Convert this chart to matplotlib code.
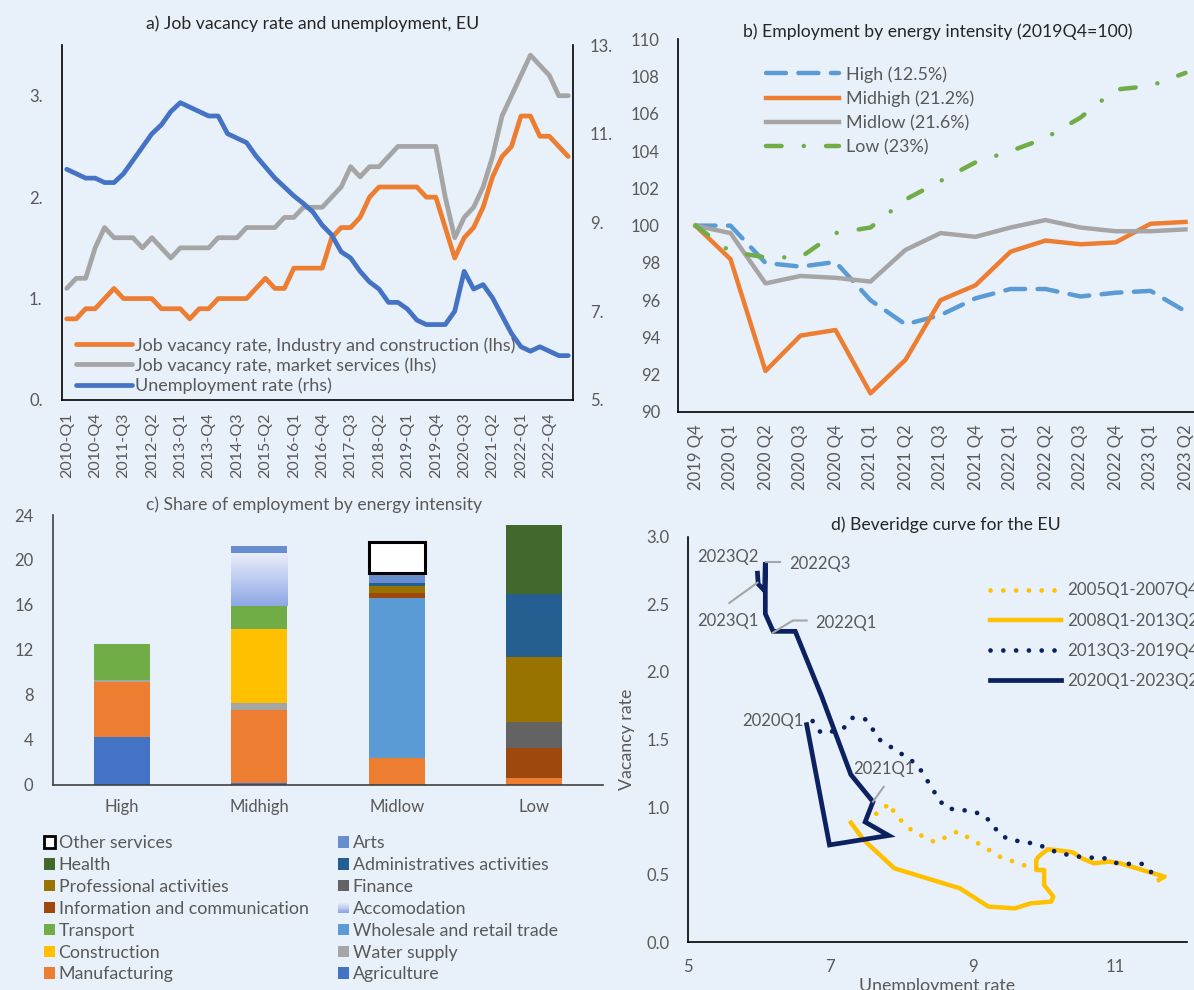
import numpy as np
import matplotlib.pyplot as plt
from matplotlib.patches import Patch, Rectangle
from matplotlib.legend_handler import HandlerBase
from matplotlib.colors import LinearSegmentedColormap
from matplotlib.ticker import FuncFormatter

plt.rcParams['font.family'] = ['Lato', 'DejaVu Sans']

W, H = 1194, 990
BG = '#E8F0F9'
GREY_TXT = '#595959'

# ---------------- data ----------------
# a) job vacancy and unemployment, 2010-Q1 .. 2023-Q2
quarters_a = [f"{y}-Q{q}" for y in range(2010, 2024) for q in range(1, 5)][:54]
vac_industry = [0.8, 0.8, 0.9, 0.9, 1.0, 1.1, 1.0, 1.0, 1.0, 1.0, 0.9, 0.9, 0.9, 0.8,
                0.9, 0.9, 1.0, 1.0, 1.0, 1.0, 1.1, 1.2, 1.1, 1.1, 1.3, 1.3, 1.3, 1.3,
                1.6, 1.7, 1.7, 1.8, 2.0, 2.1, 2.1, 2.1, 2.1, 2.1, 2.0, 2.0, 1.7, 1.4,
                1.6, 1.7, 1.9, 2.2, 2.4, 2.5, 2.8, 2.8, 2.6, 2.6, 2.5, 2.4]
vac_services = [1.1, 1.2, 1.2, 1.5, 1.7, 1.6, 1.6, 1.6, 1.5, 1.6, 1.5, 1.4, 1.5, 1.5,
                1.5, 1.5, 1.6, 1.6, 1.6, 1.7, 1.7, 1.7, 1.7, 1.8, 1.8, 1.9, 1.9, 1.9,
                2.0, 2.1, 2.3, 2.2, 2.3, 2.3, 2.4, 2.5, 2.5, 2.5, 2.5, 2.5, 2.0, 1.6,
                1.8, 1.9, 2.1, 2.4, 2.8, 3.0, 3.2, 3.4, 3.3, 3.2, 3.0, 3.0]
unemp_rate = [10.2, 10.1, 10.0, 10.0, 9.9, 9.9, 10.1, 10.4, 10.7, 11.0, 11.2, 11.5, 11.7, 11.6,
              11.5, 11.4, 11.4, 11.0, 10.9, 10.8, 10.5, 10.25, 10.0, 9.8, 9.6, 9.43, 9.24, 8.94,
              8.72, 8.34, 8.2, 7.9, 7.66, 7.5, 7.2, 7.2, 7.05, 6.8, 6.7, 6.7, 6.7, 7.0,
              7.9, 7.5, 7.6, 7.3, 6.9, 6.5, 6.2, 6.1, 6.2, 6.1, 6.0, 6.0]

# b) employment by energy intensity (2019Q4=100)
quarters_b = ['2019 Q4', '2020 Q1', '2020 Q2', '2020 Q3', '2020 Q4', '2021 Q1', '2021 Q2',
              '2021 Q3', '2021 Q4', '2022 Q1', '2022 Q2', '2022 Q3', '2022 Q4', '2023 Q1', '2023 Q2']
emp_high = [100.0, 100.0, 98.0, 97.8, 98.05, 96.0, 94.7, 95.2, 96.1, 96.6, 96.6, 96.2, 96.4, 96.5, 95.4]
emp_midhigh = [100.0, 98.2, 92.2, 94.1, 94.4, 91.0, 92.8, 96.0, 96.8, 98.6, 99.2, 99.0, 99.1, 100.1, 100.2]
emp_midlow = [100.0, 99.6, 96.9, 97.3, 97.2, 97.0, 98.7, 99.6, 99.4, 99.9, 100.3, 99.9, 99.7, 99.7, 99.8]
emp_low = [100.0, 98.6, 98.3, 98.3, 99.6, 99.9, 101.4, 102.4, 103.4, 104.0, 104.7, 105.8, 107.3, 107.5, 108.2]

# c) share of employment by energy intensity (High, Midhigh, Midlow, Low)
groups_c = ['High', 'Midhigh', 'Midlow', 'Low']
agriculture = [4.25, 0.15, 0, 0]
manufacturing = [4.9, 6.5, 2.4, 0.6]
water_supply = [0.2, 0.65, 0, 0]
construction = [0, 6.55, 0, 0]
wholesale = [0, 0, 14.25, 0]
transport = [3.2, 2.07, 0, 0]
accomodation = [0, 4.67, 0, 0]
info_comm = [0, 0, 0.41, 2.7]
finance = [0, 0, 0, 2.3]
professional = [0, 0, 0.63, 5.76]
administrative = [0, 0, 0.23, 5.64]
health = [0, 0, 0, 6.15]
arts = [0, 0.68, 0.88, 0]
other_services = [0, 0, 2.76, 0]

# d) Beveridge curve (unemployment rate, vacancy rate)
u_0507 = [9.72, 9.56, 9.39, 9.08, 8.79, 8.47, 8.16, 8.03, 7.91, 7.82, 7.73, 7.60]
v_0507 = [0.57, 0.60, 0.63, 0.73, 0.82, 0.74, 0.82, 0.88, 0.95, 1.03, 0.97, 0.94]
u_0813 = [7.29, 7.47, 7.90, 8.82, 9.22, 9.59, 9.81, 10.10, 10.13, 10.0, 10.0, 9.89, 9.89, 9.92,
          10.05, 10.16, 10.40, 10.53, 10.70, 10.91, 11.07, 11.45, 11.69, 11.61]
v_0813 = [0.885, 0.757, 0.547, 0.399, 0.264, 0.251, 0.288, 0.301, 0.338, 0.424, 0.535, 0.535, 0.609, 0.633,
          0.688, 0.683, 0.666, 0.621, 0.584, 0.597, 0.584, 0.523, 0.486, 0.461]
u_1319 = [11.50, 11.39, 11.04, 10.88, 10.53, 10.20, 10.03, 9.86, 9.51, 9.37, 9.27, 9.15, 8.99, 8.64,
          8.53, 8.44, 8.25, 8.13, 7.98, 7.69, 7.59, 7.49, 7.31, 7.20, 7.03, 6.87, 6.78, 6.70]
v_1319 = [0.52, 0.58, 0.58, 0.62, 0.63, 0.66, 0.70, 0.73, 0.76, 0.80, 0.88, 0.94, 0.97, 0.99,
          1.05, 1.13, 1.29, 1.35, 1.40, 1.50, 1.58, 1.65, 1.66, 1.59, 1.56, 1.55, 1.61, 1.69]
u_2023 = [6.67, 6.99, 7.82, 7.49, 7.60, 7.29, 6.88, 6.51, 6.20, 6.09, 6.09, 6.08, 5.99, 5.98]
v_2023 = [1.61, 0.72, 0.79, 0.89, 1.04, 1.24, 1.82, 2.30, 2.30, 2.43, 2.81, 2.60, 2.65, 2.73]


def box(l, t, r, b):
    return [l / W, 1 - b / H, (r - l) / W, (b - t) / H]


def fpos(x, y):
    return (x / W, 1 - y / H)


def style(ax, pad=13):
    ax.set_facecolor('none')
    ax.tick_params(length=0, labelsize=12, labelcolor=GREY_TXT, pad=pad)
    for s in ['top', 'right']:
        ax.spines[s].set_visible(False)
    for s in ['left', 'bottom']:
        ax.spines[s].set_color('black')
        ax.spines[s].set_linewidth(1.2)


LEG = dict(frameon=False, borderpad=0, borderaxespad=0, labelcolor=GREY_TXT)

fig = plt.figure(figsize=(W / 100, H / 100), dpi=100, facecolor=BG)

# ---------------- a) ----------------
ax1 = fig.add_axes(box(62, 45, 573, 400))
style(ax1)
xa = np.arange(len(quarters_a))
l1, = ax1.plot(xa, vac_industry, color='#ED7D31', lw=3.4, solid_capstyle='round', solid_joinstyle='round',
               label='Job vacancy rate, Industry and construction (lhs)')
l2, = ax1.plot(xa, vac_services, color='#A5A5A5', lw=3.4, solid_capstyle='round', solid_joinstyle='round',
               label='Job vacancy rate, market services (lhs)')
ax1.set_ylim(0, 3.5)
ax1.set_yticks([0, 1, 2, 3])
ax1.yaxis.set_major_formatter(FuncFormatter(lambda v, p: f"{v:.0f}."))
ax1.set_xlim(-0.5, len(quarters_a) - 0.5)
ax1.set_xticks(xa[::3])
ax1.set_xticklabels(quarters_a[::3], rotation=90, fontsize=11.5)
ax1.tick_params(axis='x', pad=9)
ax1.tick_params(axis='y', pad=14)

ax1r = ax1.twinx()
ax1r.set_facecolor('none')
l3, = ax1r.plot(xa, unemp_rate, color='#4472C4', lw=3.4, solid_capstyle='round', solid_joinstyle='round',
                label='Unemployment rate (rhs)')
ax1r.set_ylim(5, 13)
ax1r.set_yticks([5, 7, 9, 11, 13])
ax1r.yaxis.set_major_formatter(FuncFormatter(lambda v, p: f"{v:.0f}."))
ax1r.tick_params(length=0, labelsize=12, labelcolor=GREY_TXT, pad=12)
for s in ['top', 'left', 'bottom']:
    ax1r.spines[s].set_visible(False)
ax1r.spines['right'].set_color('black')
ax1r.spines['right'].set_linewidth(1.2)
ax1r.legend(handles=[l1, l2, l3], loc='upper left', bbox_to_anchor=fpos(76, 337),
            bbox_transform=fig.transFigure, fontsize=13.0, handlelength=3.1, handletextpad=0.15,
            labelspacing=0.2, **LEG)
fig.text(*fpos(313, 24), 'a) Job vacancy rate and unemployment, EU', ha='center', va='center',
         fontsize=12.7, color='#262626')

# ---------------- b) ----------------
ax2 = fig.add_axes(box(678, 39.3, 1203, 412))
style(ax2)
xb = np.arange(len(quarters_b))
ax2.plot(xb, emp_high, color='#5B9BD5', lw=3.2, dashes=(4.5, 2.8), dash_capstyle='round',
         label='High (12.5%)')
ax2.plot(xb, emp_midhigh, color='#ED7D31', lw=3.2, solid_joinstyle='round', label='Midhigh (21.2%)')
ax2.plot(xb, emp_midlow, color='#A5A5A5', lw=3.2, solid_joinstyle='round', label='Midlow (21.6%)')
ax2.plot(xb, emp_low, color='#70AD47', lw=3.2, dashes=(3.5, 5.0, 0.01, 5.0), dash_capstyle='round',
         label='Low (23%)')
ax2.set_ylim(90, 110)
ax2.set_yticks(np.arange(90, 111, 2))
ax2.set_xlim(-0.5, len(quarters_b) - 0.5)
ax2.set_xticks(xb)
ax2.set_xticklabels(quarters_b, rotation=90)
ax2.tick_params(axis='x', pad=9)
ax2.legend(loc='upper left', bbox_to_anchor=fpos(766, 66.2), bbox_transform=fig.transFigure,
           fontsize=12.9, handlelength=4.08, handletextpad=0.37, labelspacing=0.44, **LEG)
fig.text(*fpos(938, 32), 'b) Employment by energy intensity (2019Q4=100)', ha='center', va='center',
         fontsize=12.7, color='#262626')

# ---------------- c) ----------------
ax3 = fig.add_axes(box(53, 515, 603, 784.7))
style(ax3, pad=14)
ax3.spines['left'].set_color('#404040')
ax3.spines['bottom'].set_color('#404040')
xc = np.arange(len(groups_c))
series_c = [
    ('Agriculture', agriculture, '#4472C4'),
    ('Manufacturing', manufacturing, '#ED7D31'),
    ('Water supply', water_supply, '#A5A5A5'),
    ('Construction', construction, '#FFC000'),
    ('Wholesale and retail trade', wholesale, '#5B9BD5'),
    ('Transport', transport, '#70AD47'),
    ('Accomodation', accomodation, None),
    ('Information and communication', info_comm, '#9E480E'),
    ('Finance', finance, '#636363'),
    ('Professional activities', professional, '#997300'),
    ('Administratives activities', administrative, '#255E91'),
    ('Health', health, '#43682B'),
    ('Arts', arts, '#698ED0'),
    ('Other services', other_services, 'white'),
]
acc_cmap = LinearSegmentedColormap.from_list('acc', ['#8EA8E6', '#E9EDF9'])
bw = 0.41
bottom = np.zeros(len(groups_c))
handles_c = {}
for name, vals, col in series_c:
    vals = np.array(vals, dtype=float)
    if name == 'Accomodation':
        ax3.bar(xc, vals, bw, bottom=bottom, color='none', edgecolor='none')
        for i, v in enumerate(vals):
            if v > 0:
                grad = np.linspace(1, 0, 64).reshape(-1, 1)
                ax3.imshow(grad, extent=(xc[i] - bw / 2, xc[i] + bw / 2, bottom[i], bottom[i] + v),
                           aspect='auto', cmap=acc_cmap, origin='upper', zorder=2)
        handles_c[name] = Patch(facecolor='#C3CEF1', edgecolor='none')
    elif name == 'Other services':
        ax3.bar(xc[vals > 0], vals[vals > 0], bw, bottom=bottom[vals > 0], color='white',
                edgecolor='black', linewidth=2.2, zorder=3)
        handles_c[name] = Patch(facecolor='white', edgecolor='black', linewidth=2)
    else:
        ax3.bar(xc, vals, bw, bottom=bottom, color=col, edgecolor='none', zorder=2)
        handles_c[name] = Patch(facecolor=col, edgecolor='none')
    bottom = bottom + vals
ax3.set_xlim(-0.5, 3.5)
ax3.set_ylim(0, 24)
ax3.set_yticks(np.arange(0, 25, 4))
ax3.set_xticks(xc)
ax3.set_xticklabels(groups_c)
ax3.tick_params(axis='x', pad=10)
fig.text(*fpos(314.5, 505), 'c) Share of employment by energy intensity', ha='center', va='center',
         fontsize=12.7, color=GREY_TXT)


class GradHandler(HandlerBase):
    def create_artists(self, legend, orig_handle, xdescent, ydescent, width, height, fontsize, trans):
        n = 12
        arts = []
        for k in range(n):
            r = Rectangle((-xdescent, -ydescent + height * k / n), width, height / n + 0.2,
                          facecolor=acc_cmap(k / (n - 1)), edgecolor='none', transform=trans)
            arts.append(r)
        return arts


left_names = ['Other services', 'Health', 'Professional activities', 'Information and communication',
              'Transport', 'Construction', 'Manufacturing']
right_names = ['Arts', 'Administratives activities', 'Finance', 'Accomodation',
               'Wholesale and retail trade', 'Water supply', 'Agriculture']
for names, x0 in [(left_names, 44), (right_names, 338)]:
    fig.legend([handles_c[n] for n in names], names, loc='upper left', bbox_to_anchor=fpos(x0, 835.2),
               fontsize=12.8, handlelength=0.62, handleheight=0.62, handletextpad=0.2,
               labelspacing=0.33, handler_map={handles_c['Accomodation']: GradHandler()}, **LEG)

# ---------------- d) ----------------
ax4 = fig.add_axes(box(687.6, 536.7, 1186.7, 942.3))
style(ax4)
ax4.plot(u_0507, v_0507, color='#FFC000', lw=3.4, dashes=(0.01, 2.7), dash_capstyle='round',
         label='2005Q1-2007Q4')
ax4.plot(u_0813, v_0813, color='#FFC000', lw=3.2, solid_joinstyle='round', label='2008Q1-2013Q2')
ax4.plot(u_1319, v_1319, color='#0B2160', lw=3.4, dashes=(0.01, 2.7), dash_capstyle='round',
         label='2013Q3-2019Q4')
ax4.plot(u_2023, v_2023, color='#0B2160', lw=3.4, solid_joinstyle='miter', label='2020Q1-2023Q2')
ax4.set_xlim(5, 12)
ax4.set_ylim(0, 3.0)
ax4.set_xticks([5, 7, 9, 11])
ax4.set_yticks(np.arange(0, 3.01, 0.5))
ax4.yaxis.set_major_formatter(FuncFormatter(lambda v, p: f"{v:.1f}"))
ax4.tick_params(axis='x', pad=12)
ax4.set_xlabel('Unemployment rate', fontsize=12.8, color=GREY_TXT, labelpad=2)
ax4.set_ylabel('Vacancy rate', fontsize=12.8, color=GREY_TXT, labelpad=8)
ax4.legend(loc='upper left', bbox_to_anchor=fpos(989.6, 582.5), bbox_transform=fig.transFigure,
           fontsize=12.2, handlelength=4.2, handletextpad=0.4, labelspacing=0.83, **LEG)

ann = dict(fontsize=12, color=GREY_TXT)
lk = dict(color='#A5A5A5', lw=1.5)
ax4.text(5.565, 2.85, '2023Q2', ha='center', va='center', **ann)
ax4.text(6.43, 2.80, '2022Q3', ha='left', va='center', **ann)
ax4.plot([6.105, 6.29], [2.81, 2.81], **lk)
ax4.text(5.565, 2.38, '2023Q1', ha='center', va='center', **ann)
ax4.plot([5.585, 5.98], [2.51, 2.66], **lk)
ax4.text(6.79, 2.36, '2022Q1', ha='left', va='center', **ann)
ax4.plot([6.196, 6.476, 6.67], [2.29, 2.38, 2.38], **lk)
ax4.text(6.62, 1.64, '2020Q1', ha='right', va='center', **ann)
ax4.text(7.75, 1.28, '2021Q1', ha='center', va='center', **ann)
ax4.plot([7.75, 7.60], [1.15, 1.04], **lk)
fig.text(*fpos(946, 525), 'd) Beveridge curve for the EU', ha='center', va='center',
         fontsize=12.7, color='#262626')

fig.savefig('out.png', dpi=100, facecolor=BG)
